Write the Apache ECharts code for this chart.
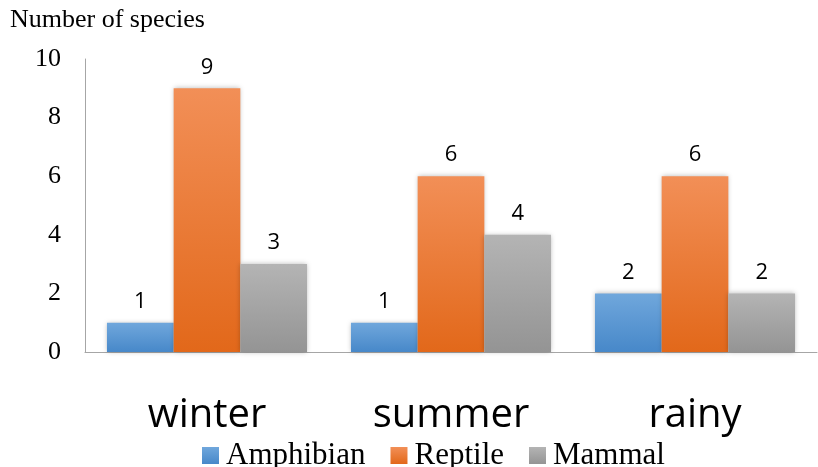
<!DOCTYPE html>
<html>
<head>
<meta charset="utf-8">
<script src="https://cdn.jsdelivr.net/npm/echarts@6/dist/echarts.min.js"></script>
<style>
  html, body { margin: 0; padding: 0; background: #fff; }
  #chart { width: 818px; height: 467px; }
</style>
</head>
<body>
<div id="chart"></div>
<script>
const seasons = ['winter', 'summer', 'rainy']
const amphibian = [1, 1, 2]
const reptile = [9, 6, 6]
const mammal = [3, 4, 2]
const yTicks = { min: 0, max: 10, interval: 2 }

const serif = '"Liberation Serif", "DejaVu Serif", serif'
const sans = '"Open Sans", "Noto Sans", sans-serif'

const grad = (top, bottom) => new echarts.graphic.LinearGradient(0, 0, 0, 1, [
  { offset: 0, color: top },
  { offset: 1, color: bottom },
])

const makeSeries = (name, data, top, bottom) => ({
  name,
  type: 'bar',
  data,
  barGap: '0%',
  barCategoryGap: '18%',
  itemStyle: {
    color: grad(top, bottom),
    shadowColor: 'rgba(0, 0, 0, 0.28)',
    shadowBlur: 5,
  },
  label: {
    show: true,
    position: 'top',
    distance: 10,
    color: '#000',
    fontFamily: sans,
    fontSize: 22,
  },
})

const chart = echarts.init(document.getElementById('chart'), null, { renderer: 'canvas' })

chart.setOption({
  animation: false,
  backgroundColor: '#fff',
  title: {
    text: 'Number of species',
    left: 5,
    top: 2,
    textStyle: { fontFamily: serif, fontSize: 26, fontWeight: 'normal', color: '#000' },
  },
  legend: {
    data: ['Amphibian', 'Reptile', 'Mammal'],
    left: 197,
    top: 435,
    icon: 'rect',
    itemWidth: 17,
    itemHeight: 17,
    itemGap: 25,
    textStyle: { fontFamily: serif, fontSize: 31, color: '#000', padding: [0, 0, 0, 2] },
  },
  grid: { left: 85, right: 1, top: 59, bottom: 115, containLabel: false },
  xAxis: {
    type: 'category',
    data: seasons,
    axisLine: { show: true, lineStyle: { color: '#a6a6a6', width: 1 } },
    axisTick: { show: false },
    axisLabel: { margin: 44, color: '#000', fontFamily: sans, fontSize: 40 },
  },
  yAxis: {
    type: 'value',
    min: yTicks.min,
    max: yTicks.max,
    interval: yTicks.interval,
    axisLine: { show: true, lineStyle: { color: '#a6a6a6', width: 1 } },
    axisTick: { show: false },
    splitLine: { show: false },
    axisLabel: { margin: 24, color: '#000', fontFamily: serif, fontSize: 26 },
  },
  series: [
    makeSeries('Amphibian', amphibian, '#70a7dc', '#4788c9'),
    makeSeries('Reptile', reptile, '#f28f57', '#e2681a'),
    makeSeries('Mammal', mammal, '#b4b4b4', '#949494'),
  ],
})
</script>
</body>
</html>
